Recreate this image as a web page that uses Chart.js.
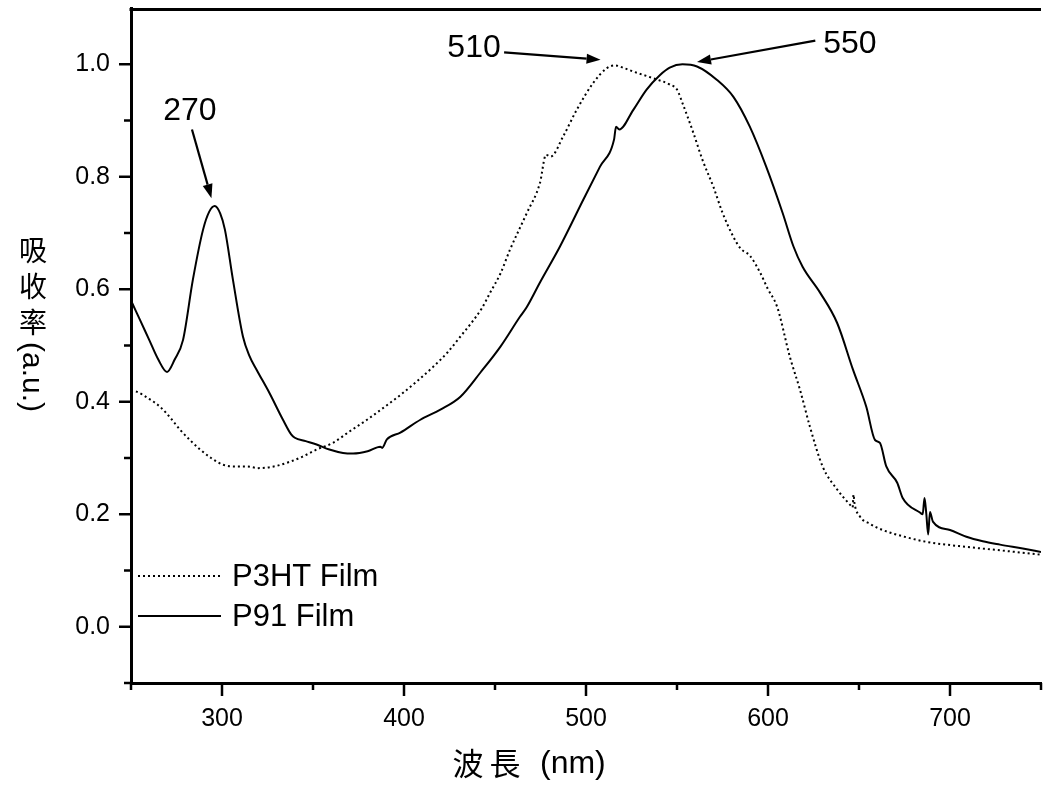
<!DOCTYPE html>
<html><head><meta charset="utf-8">
<script src="https://cdn.jsdelivr.net/npm/chart.js@4.4.0/dist/chart.umd.min.js"></script>
<style>html,body{margin:0;padding:0;background:#fff;overflow:hidden}#wrap{width:1043px;height:787px;position:relative}</style>
</head><body><div id="wrap"><canvas id="c" width="1043" height="787"></canvas></div>
<script>
// ---- data ----
const seriesLabels = ['P3HT Film', 'P91 Film'];

const p3htWavelength = [250,253,260,266,272,277,283,288,294,300.5,307,313.7,320,324.7,330,337,344,352,361,370,379.7,389,398,407,416,424,431,437,442.7,447.5,453,458.2,467.4,474.7,478,480.6,487.5,494.9,504,511.4,515.9,521,526,537,546,550,553,556,559,564,570,575,581,585,590,595.6,600,605,612,617.6,623,630,638,645,646.5,647,647.5,650.5,656,663,675,687,709,730,750];
const p3htAbsorbance = [0.42,0.418,0.405,0.391,0.37,0.35,0.33,0.315,0.300,0.288,0.285,0.285,0.282,0.283,0.286,0.293,0.302,0.315,0.327,0.347,0.368,0.39,0.412,0.436,0.462,0.488,0.516,0.54,0.566,0.595,0.628,0.670,0.735,0.789,0.839,0.836,0.872,0.919,0.967,0.993,0.998,0.993,0.987,0.975,0.964,0.955,0.931,0.905,0.878,0.830,0.782,0.736,0.693,0.672,0.660,0.63,0.60,0.569,0.48,0.421,0.356,0.285,0.244,0.217,0.212,0.235,0.22,0.196,0.183,0.172,0.16,0.151,0.142,0.135,0.128];

const p91Wavelength = [250,255,260,265,269.8,274,278.6,284,289.6,293,296,299,301.6,306,311.5,315,319,326,333.5,338,340,346,352,359,366.5,372,380,387,388,390.6,398,409,420,431,442,453,463.7,467.4,474.7,485.7,498.5,507.7,515.4,516.5,518.3,526,533.3,540.7,546,553,561,572,581,590,599,608,614,619,628.6,638,646.7,654,658.8,661.5,665,671,674,683.5,685,686,687,688,689,690.6,700,709,718,727.5,740,750];
const p91Absorbance = [0.58,0.545,0.51,0.475,0.453,0.475,0.51,0.617,0.706,0.738,0.748,0.735,0.706,0.617,0.516,0.482,0.457,0.416,0.368,0.342,0.336,0.330,0.324,0.315,0.309,0.308,0.312,0.32,0.318,0.333,0.345,0.368,0.386,0.409,0.452,0.498,0.551,0.568,0.612,0.676,0.759,0.818,0.866,0.889,0.884,0.919,0.955,0.981,0.994,1.0,0.996,0.972,0.942,0.889,0.818,0.736,0.676,0.64,0.594,0.54,0.457,0.391,0.332,0.327,0.285,0.256,0.229,0.203,0.200,0.229,0.200,0.164,0.204,0.187,0.172,0.16,0.152,0.146,0.139,0.133];

const xMajorTicks = [300, 400, 500, 600, 700];
const xMinorTicks = [250, 350, 450, 550, 650, 750];
const yMajorTicks = [0.0, 0.2, 0.4, 0.6, 0.8, 1.0];
const yMinorTicks = [-0.1, 0.1, 0.3, 0.5, 0.7, 0.9];

const xTitleCJK = ['波', '長'];
const xTitleLatin = '(nm)';
const yTitleCJK = ['吸', '收', '率'];
const yTitleLatin = '(a.u.)';

// peak annotations (text position and arrow tail/head, in data units)
const peakText  = ['270', '510', '550'];
const peakTextX = [282.4, 438.5, 645];
const peakTextY = [0.917, 1.029, 1.036];
const arrowTailX = [283.5, 455, 626];
const arrowTailY = [0.884, 1.021, 1.042];
const arrowHeadX = [294.2, 508, 561];
const arrowHeadY = [0.762, 1.008, 1.004];

// ---- chart ----
const LATIN = '"Liberation Sans", Arial, sans-serif';
const CJK = '"Noto Sans CJK TC", "Noto Sans CJK SC", sans-serif';

function pts(xs, ys){ return xs.map((x,i)=>({x:x, y:ys[i]})); }

const axesPlugin = {
  id: 'axesDecor',
  afterDraw(chart){
    const ctx = chart.ctx, xs = chart.scales.x, ys = chart.scales.y, ca = chart.chartArea;
    ctx.save();
    ctx.strokeStyle = '#000';
    ctx.lineCap = 'butt';
    // top frame line
    ctx.lineWidth = 3;
    ctx.beginPath(); ctx.moveTo(ca.left - 1.5, ca.top + 1.5); ctx.lineTo(ca.right, ca.top + 1.5); ctx.stroke();
    // y ticks (outward)
    ctx.lineWidth = 2.5;
    yMajorTicks.forEach(v=>{ const p = ys.getPixelForValue(v); ctx.beginPath(); ctx.moveTo(ca.left, p); ctx.lineTo(ca.left-12, p); ctx.stroke(); });
    yMinorTicks.forEach(v=>{ const p = ys.getPixelForValue(v); ctx.beginPath(); ctx.moveTo(ca.left, p); ctx.lineTo(ca.left-7, p); ctx.stroke(); });
    // x ticks (outward)
    xMajorTicks.forEach(v=>{ const p = xs.getPixelForValue(v); ctx.beginPath(); ctx.moveTo(p, ca.bottom); ctx.lineTo(p, ca.bottom+13); ctx.stroke(); });
    xMinorTicks.forEach(v=>{ const p = xs.getPixelForValue(v); ctx.beginPath(); ctx.moveTo(p, ca.bottom); ctx.lineTo(p, ca.bottom+7); ctx.stroke(); });

    // axis titles
    ctx.fillStyle = '#000';
    ctx.textBaseline = 'middle';
    ctx.textAlign = 'center';
    ctx.font = '31px ' + CJK;
    xTitleCJK.forEach((ch,i)=>{ ctx.fillText(ch, 468 + i*37, 763); });
    ctx.textAlign = 'left';
    ctx.font = '32px ' + LATIN;
    ctx.fillText(xTitleLatin, 540, 764);
    // y title: upright CJK chars stacked, then rotated latin
    ctx.textAlign = 'center';
    ctx.font = '28px ' + CJK;
    yTitleCJK.forEach((ch,i)=>{ ctx.fillText(ch, 33, 250 + i*36); });
    ctx.save();
    ctx.font = '30px ' + LATIN;
    ctx.translate(31, 377);
    ctx.rotate(Math.PI/2);
    ctx.fillText(yTitleLatin, 0, 0);
    ctx.restore();

    // legend
    ctx.textAlign = 'left';
    ctx.font = '31px ' + LATIN;
    const legY = [576, 616];
    chart.data.datasets.forEach((ds,i)=>{
      ctx.save();
      ctx.strokeStyle = ds.borderColor;
      ctx.lineWidth = ds.borderWidth;
      ctx.setLineDash(ds.borderDash || []);
      ctx.beginPath(); ctx.moveTo(ca.left + 7, legY[i]); ctx.lineTo(ca.left + 90, legY[i]); ctx.stroke();
      ctx.restore();
      ctx.fillText(ds.label, ca.left + 101, legY[i] + 1);
    });

    // peak annotations with arrows
    ctx.font = '32px ' + LATIN;
    ctx.textAlign = 'center';
    peakText.forEach((t,i)=>{
      ctx.fillText(t, xs.getPixelForValue(peakTextX[i]), ys.getPixelForValue(peakTextY[i]));
      const x0 = xs.getPixelForValue(arrowTailX[i]), y0 = ys.getPixelForValue(arrowTailY[i]);
      const x1 = xs.getPixelForValue(arrowHeadX[i]), y1 = ys.getPixelForValue(arrowHeadY[i]);
      const ang = Math.atan2(y1-y0, x1-x0);
      const hl = 14, hw = 5;
      const bx = x1 - hl*Math.cos(ang), by = y1 - hl*Math.sin(ang);
      ctx.lineWidth = 2.2;
      ctx.beginPath(); ctx.moveTo(x0,y0); ctx.lineTo(bx,by); ctx.stroke();
      ctx.beginPath();
      ctx.moveTo(x1,y1);
      ctx.lineTo(bx + hw*Math.sin(ang), by - hw*Math.cos(ang));
      ctx.lineTo(bx - hw*Math.sin(ang), by + hw*Math.cos(ang));
      ctx.closePath(); ctx.fill();
    });
    ctx.restore();
  }
};

new Chart(document.getElementById('c'), {
  type: 'line',
  data: {
    datasets: [
      { label: seriesLabels[0], data: pts(p3htWavelength, p3htAbsorbance), borderColor: '#000', borderWidth: 2, borderDash: [2,3], pointRadius: 0, fill: false, cubicInterpolationMode: 'monotone' },
      { label: seriesLabels[1], data: pts(p91Wavelength, p91Absorbance), borderColor: '#000', borderWidth: 2, pointRadius: 0, fill: false, cubicInterpolationMode: 'monotone' }
    ]
  },
  options: {
    responsive: false,
    animation: false,
    devicePixelRatio: 1,
    layout: { padding: { top: 8, right: 2, left: 0, bottom: 0 } },
    plugins: { legend: { display: false }, tooltip: { enabled: false } },
    scales: {
      x: {
        type: 'linear', min: 250, max: 750,
        afterBuildTicks: s => { s.ticks = xMajorTicks.map(v=>({value:v})); },
        afterFit: s => { s.height = 104; s.paddingLeft = 0; s.paddingRight = 0; },
        grid: { display: false, drawTicks: false },
        border: { display: true, color: '#000', width: 3 },
        ticks: { color: '#000', padding: 21, maxRotation: 0, font: { family: LATIN, size: 25 }, callback: v => String(v) }
      },
      y: {
        type: 'linear', min: -0.1, max: 1.1,
        afterBuildTicks: s => { s.ticks = yMajorTicks.map(v=>({value:v})); },
        afterFit: s => { s.width = 131; s.paddingTop = 0; s.paddingBottom = 0; },
        grid: { display: false, drawTicks: false },
        border: { display: true, color: '#000', width: 3 },
        ticks: { color: '#000', padding: 21, font: { family: LATIN, size: 25 }, callback: v => Number(v).toFixed(1) }
      }
    }
  },
  plugins: [axesPlugin]
});
</script></body></html>
